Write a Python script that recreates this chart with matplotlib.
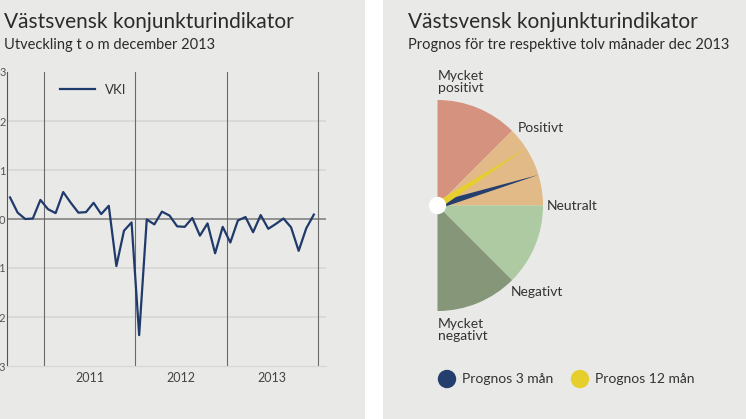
import matplotlib
matplotlib.use("Agg")
import matplotlib.pyplot as plt
import numpy as np
from matplotlib.patches import Wedge, Rectangle, Polygon, Circle

plt.rcParams["font.family"] = "Lato"

# ---- data ----
vki = [0.44, 0.13, 0.0, 0.01, 0.39, 0.2, 0.12, 0.55, 0.33, 0.13, 0.14, 0.33, 0.1, 0.27,
       -0.96, -0.24, -0.07, -2.37, -0.01, -0.11, 0.15, 0.07, -0.15, -0.16, 0.02, -0.34,
       -0.09, -0.7, -0.16, -0.48, -0.03, 0.04, -0.27, 0.08, -0.2, -0.1, 0.01, -0.17,
       -0.65, -0.19, 0.09]
years = ["2011", "2012", "2013"]
yticks = [-3, -2, -1, 0, 1, 2, 3]
segments = ["Mycket\nnegativt", "Negativt", "Neutralt", "Positivt", "Mycket\npositivt"]
seg_colors = ["#d4927f", "#e2ba87", "#adcaa3", "#859778"]
prognos_labels = ["Prognos 3 mån", "Prognos 12 mån"]
prognos_values = [0.375, 0.73]   # scale -2 .. 2 -> -90..90 deg
prognos_colors = ["#243f6e", "#e6cf2c"]

W, H = 746, 419
fig = plt.figure(figsize=(W/100, H/100), dpi=100)
fig.patch.set_facecolor("white")
bg = "#e9e9e7"
def px(x0, y0, x1, y1):
    return [x0/W, 1-y1/H, (x1-x0)/W, (y1-y0)/H]

# background panels
bgax = fig.add_axes([0, 0, 1, 1], zorder=-5)
bgax.set_xlim(0, W); bgax.set_ylim(H, 0); bgax.axis("off")
bgax.add_patch(Rectangle((0, 0), 365, H, color=bg, lw=0))
bgax.add_patch(Rectangle((383, 0), W-383, H, color=bg, lw=0))

tc = "#2b2b2b"
fig.text(4/W, 1-22/H, "Västsvensk konjunkturindikator", fontsize=15, color=tc, va="center")
fig.text(4/W, 1-45/H, "Utveckling t o m december 2013", fontsize=10.5, color=tc, va="center")
fig.text(408/W, 1-22/H, "Västsvensk konjunkturindikator", fontsize=15, color=tc, va="center")
fig.text(408/W, 1-45/H, "Prognos för tre respektive tolv månader dec 2013", fontsize=10.5, color=tc, va="center")

# ---- left line chart ----
ax = fig.add_axes(px(7, 72, 326, 366))
ax.set_facecolor(bg)
x = np.arange(len(vki))
ax.plot(x, vki, color="#1f3a6b", lw=1.6, label="VKI", zorder=3)
ax.set_xlim(-0.4, 41.6)
ax.set_ylim(-3, 3)
ax.set_yticks(yticks)
ax.set_yticklabels([str(t) for t in yticks], fontsize=8, color="#555")
ax.tick_params(axis="y", length=0, pad=1)
for t in yticks:
    if t not in (-3, 3):
        ax.axhline(t, color="#8a8a8a" if t == 0 else "#d6d6d4", lw=1.3 if t == 0 else 1.2, zorder=1)
for i in range(len(years) + 1):
    ax.axvline(4.5 + 12*i, color="#6a6a6a", lw=0.8, zorder=2)
ax.set_xticks([10.5 + 12*i for i in range(len(years))])
ax.set_xticklabels(years, fontsize=9, color="#444")
ax.tick_params(axis="x", length=0, pad=4)
for s in ["top", "right"]:
    ax.spines[s].set_visible(False)
ax.spines["left"].set_color("#555")
ax.spines["bottom"].set_color("#d6d6d4")
ax.legend(loc="upper left", bbox_to_anchor=(0.13, 1.0), frameon=False, fontsize=9.5,
          handlelength=2.6, labelcolor="#333")

# ---- right semicircle ----
ax2 = fig.add_axes(px(383, 60, 746, 419))
ax2.set_xlim(383, 746)
ax2.set_ylim(419, 60)
ax2.axis("off")
cx, cy, R = 437.5, 205.5, 105.5
n = len(seg_colors)
for i, c in enumerate(seg_colors):
    a0 = -90 + 180*i/n
    ax2.add_patch(Wedge((cx, cy), R, a0, a0 + 180/n, color=c, lw=0))
lab_pos = [(438, 330), (511, 292), (547, 206), (518, 128), (438, 82)]
for (lx, ly), txt in zip(lab_pos, segments):
    ax2.text(lx, ly, txt, fontsize=10, color="#333", ha="left", va="center", linespacing=1.0)
for v, c in zip(prognos_values, prognos_colors):
    ang = np.deg2rad(v * 45)
    tip = (cx + R*np.cos(ang), cy - R*np.sin(ang))
    perp = np.array([np.sin(ang), np.cos(ang)]) * 3.5
    base = np.array([cx, cy])
    ax2.add_patch(Polygon([base + perp, base - perp, tip], color=c, lw=0, zorder=4))
ax2.add_patch(Circle((cx, cy), 8, color="white", zorder=5))
for i, (lbl, c) in enumerate(zip(prognos_labels, prognos_colors)):
    lx = 447 + 133*i
    ax2.add_patch(Circle((lx, 379), 8.5, color=c, zorder=5))
    ax2.text(lx + 15, 379, lbl, fontsize=10, color="#333", va="center")

fig.savefig("out.png", dpi=100, facecolor="white")
